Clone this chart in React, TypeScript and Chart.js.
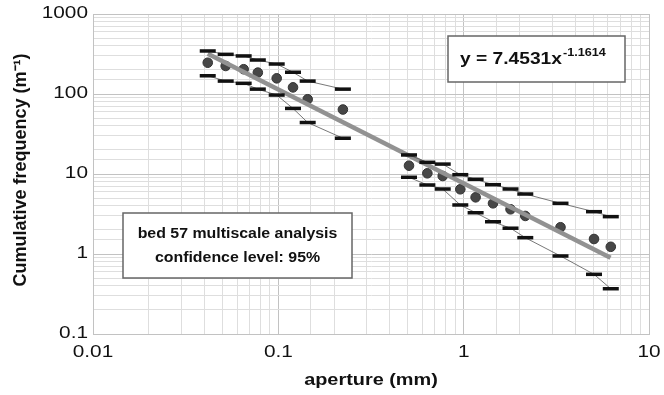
import { useEffect, useRef } from "react";
import { Chart, registerables } from "chart.js";

Chart.register(...registerables);

// Aperture (mm) and cumulative frequency (1/m)
const apertureSmall = [0.0416, 0.052, 0.065, 0.0775, 0.098, 0.12, 0.144, 0.223];
const freqSmall = [246, 224, 204, 185, 157, 121, 86, 64];
const upperSmall = [345, 313, 299, 266, 237, 187, 145, 115];
const lowerSmall = [169, 145, 136, 115, 97, 66, 44, 28];

const apertureLarge = [0.507, 0.637, 0.771, 0.959, 1.16, 1.44, 1.79, 2.15, 3.33, 5.05, 6.22];
const freqLarge = [12.7, 10.2, 9.44, 6.44, 5.11, 4.3, 3.62, 2.99, 2.16, 1.54, 1.23];
const upperLarge = [17.3, 14.0, 13.3, 9.8, 8.58, 7.35, 6.49, 5.62, 4.3, 3.38, 2.93];
const lowerLarge = [9.1, 7.29, 6.49, 4.1, 3.28, 2.53, 2.1, 1.6, 0.944, 0.557, 0.368];

// Power-law fit end points
const fitAperture = [0.0416, 6.2];
const fitFreq = [318, 0.9];

const xTickValues = [0.01, 0.1, 1, 10];
const xTickLabels = ["0.01", "0.1", "1", "10"];
const yTickValues = [0.1, 1, 10, 100, 1000];
const yTickLabels = ["0.1", "1", "10", "100", "1000"];

const xTitle = "aperture (mm)";
const yTitle = "Cumulative frequency (m⁻¹)";
const equationMain = "y = 7.4531x";
const equationExp = "-1.1614";
const noteLines = ["bed 57 multiscale analysis", "confidence level: 95%"];

const FONT = '"Liberation Sans", Arial, sans-serif';

const pts = (xs: number[], ys: number[]) => xs.map((x, i) => ({ x, y: ys[i] }));

const isPow10 = (v: number) => Math.abs(Math.log10(v) - Math.round(Math.log10(v))) < 1e-6;

const gridColor = (ctx: any) => {
  const v = ctx.tick ? ctx.tick.value : 0;
  return isPow10(v) ? "#c2c2c2" : "#dedede";
};

function drawText(
  ctx: CanvasRenderingContext2D,
  text: string,
  x: number,
  y: number,
  font: string,
  sx: number,
  align: CanvasTextAlign,
  baseline: CanvasTextBaseline,
  rot = 0
) {
  ctx.save();
  ctx.translate(x, y);
  if (rot) ctx.rotate(rot);
  ctx.scale(sx, 1);
  ctx.font = font;
  ctx.textAlign = align;
  ctx.textBaseline = baseline;
  ctx.fillText(text, 0, 0);
  ctx.restore();
}

const annotations = {
  id: "annotations",
  afterDraw(chart: any) {
    const ctx: CanvasRenderingContext2D = chart.ctx;
    const xs = chart.scales.x;
    const ys = chart.scales.y;
    ctx.save();
    ctx.fillStyle = "#111111";

    // tick labels, positioned by the chart's scales
    xTickValues.forEach((v, i) => {
      drawText(ctx, xTickLabels[i], xs.getPixelForValue(v), 353, "16px " + FONT, 1.3, "center", "middle");
    });
    yTickValues.forEach((v, i) => {
      drawText(ctx, yTickLabels[i], 88, ys.getPixelForValue(v), "16px " + FONT, 1.3, "right", "middle");
    });

    // axis titles
    const cx = (chart.chartArea.left + chart.chartArea.right) / 2;
    const cy = (chart.chartArea.top + chart.chartArea.bottom) / 2;
    drawText(ctx, xTitle, cx, 380, "bold 17px " + FONT, 1.17, "center", "middle");
    drawText(ctx, yTitle, 21, cy - 4, "bold 18px " + FONT, 1.0, "center", "middle", -Math.PI / 2);

    // equation box
    ctx.fillStyle = "#ffffff";
    ctx.fillRect(448, 36, 177, 46);
    ctx.strokeStyle = "#666666";
    ctx.lineWidth = 1.5;
    ctx.strokeRect(448, 36, 177, 46);
    ctx.fillStyle = "#111111";
    drawText(ctx, equationMain, 460, 64, "bold 16px " + FONT, 1.2, "left", "alphabetic");
    ctx.font = "bold 16px " + FONT;
    const w = ctx.measureText(equationMain).width * 1.2;
    drawText(ctx, equationExp, 460 + w + 1, 56, "bold 11px " + FONT, 1.15, "left", "alphabetic");

    // note box
    ctx.fillStyle = "#ffffff";
    ctx.fillRect(123, 213, 229, 65);
    ctx.strokeStyle = "#666666";
    ctx.strokeRect(123, 213, 229, 65);
    ctx.fillStyle = "#111111";
    drawText(ctx, noteLines[0], 237.5, 238, "bold 15px " + FONT, 1.06, "center", "alphabetic");
    drawText(ctx, noteLines[1], 237.5, 262, "bold 15px " + FONT, 1.06, "center", "alphabetic");
    ctx.restore();
  },
};

export default function App() {
  const ref = useRef<HTMLCanvasElement | null>(null);

  useEffect(() => {
    if (!ref.current) return;
    const dashStyle = {
      showLine: true,
      borderColor: "#555555",
      borderWidth: 0.8,
      pointStyle: "line" as const,
      pointRadius: 8,
      pointBorderWidth: 3.5,
      pointBorderColor: "#111111",
      pointBackgroundColor: "#111111",
      order: 0,
    };
    const circleStyle = {
      showLine: false,
      pointStyle: "circle" as const,
      pointRadius: 4.8,
      pointBackgroundColor: "#474747",
      pointBorderColor: "#333333",
      pointBorderWidth: 1,
      order: 2,
    };
    const chart = new Chart(ref.current, {
      type: "scatter",
      data: {
        datasets: [
          { label: "upper small", data: pts(apertureSmall, upperSmall), ...dashStyle },
          { label: "lower small", data: pts(apertureSmall, lowerSmall), ...dashStyle },
          { label: "upper large", data: pts(apertureLarge, upperLarge), ...dashStyle },
          { label: "lower large", data: pts(apertureLarge, lowerLarge), ...dashStyle },
          {
            label: "fit",
            data: pts(fitAperture, fitFreq),
            showLine: true,
            borderColor: "#929292",
            borderWidth: 4.5,
            pointRadius: 0,
            order: 1,
          },
          { label: "small", data: pts(apertureSmall, freqSmall), ...circleStyle },
          { label: "large", data: pts(apertureLarge, freqLarge), ...circleStyle },
        ],
      },
      options: {
        animation: false,
        responsive: false,
        devicePixelRatio: 1,
        layout: { padding: { top: 14, right: 15, left: 0, bottom: 0 } },
        plugins: {
          legend: { display: false },
          tooltip: { enabled: false },
        },
        scales: {
          x: {
            type: "logarithmic",
            min: 0.01,
            max: 10,
            grid: { color: gridColor, drawTicks: false, lineWidth: 1 },
            border: { color: "#c2c2c2" },
            ticks: { display: false, autoSkip: false },
            afterFit: (s: any) => {
              s.height = 61;
            },
          },
          y: {
            type: "logarithmic",
            min: 0.1,
            max: 1000,
            grid: { color: gridColor, drawTicks: false, lineWidth: 1 },
            border: { color: "#c2c2c2" },
            ticks: { display: false, autoSkip: false },
            afterFit: (s: any) => {
              s.width = 93;
            },
          },
        },
      },
      plugins: [annotations],
    });
    return () => chart.destroy();
  }, []);

  return (
    <div style={{ position: "absolute", left: 0, top: 0, width: 664, height: 395, background: "#ffffff" }}>
      <canvas ref={ref} width={664} height={395} style={{ width: 664, height: 395, display: "block" }} />
    </div>
  );
}
